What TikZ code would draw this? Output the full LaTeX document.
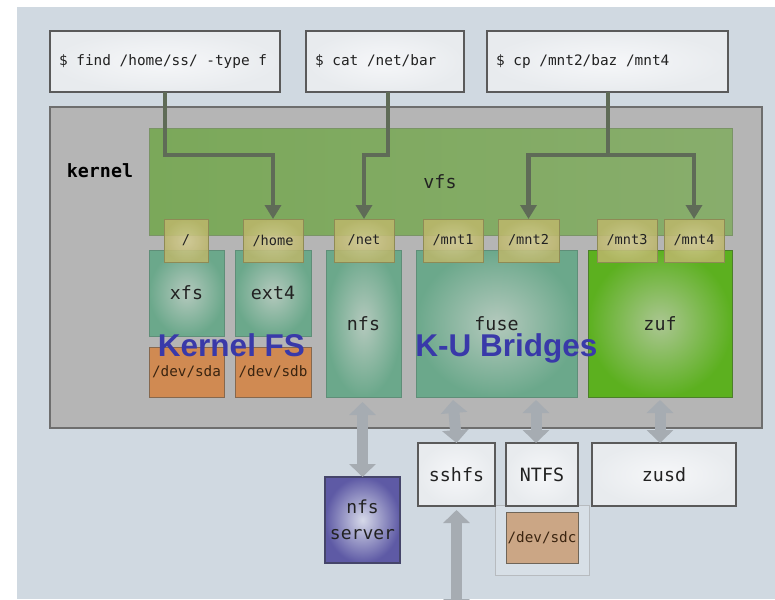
\documentclass[tikz,border=0pt]{standalone}
\usepackage{fontspec}
\setmainfont{Liberation Sans}
\setmonofont{DejaVu Sans Mono}
\usetikzlibrary{arrows.meta,calc}
\definecolor{bgc}{HTML}{D0D9E1}
\definecolor{cmdfill}{HTML}{E8EBEE}
\definecolor{cmdin}{HTML}{F6F7F9}
\definecolor{bord}{HTML}{5A5A5A}
\definecolor{kernfill}{HTML}{B5B5B5}
\definecolor{kernbord}{HTML}{6E6E6E}
\definecolor{vfsl}{HTML}{7BA85A}
\definecolor{vfsm}{HTML}{A9B99C}
\definecolor{vfsr}{HTML}{88AD6C}
\definecolor{vfsbord}{HTML}{7A9466}
\definecolor{mntin}{HTML}{D5CD92}
\definecolor{mntout}{HTML}{BDB76B}
\definecolor{mntbord}{HTML}{8E8A55}
\definecolor{fsin}{HTML}{B4C9BD}
\definecolor{fsout}{HTML}{6BA88B}
\definecolor{fsbord}{HTML}{5F8E78}
\definecolor{devfill}{HTML}{D08A52}
\definecolor{devbord}{HTML}{86684E}
\definecolor{devtext}{HTML}{3A2410}
\definecolor{zufin}{HTML}{ABC692}
\definecolor{zufout}{HTML}{5CB01F}
\definecolor{zufbord}{HTML}{4C7F2A}
\definecolor{srvin}{HTML}{D6D9E9}
\definecolor{srvout}{HTML}{5E5AA5}
\definecolor{srvbord}{HTML}{45456A}
\definecolor{sdcfill}{HTML}{CBA685}
\definecolor{sdcbord}{HTML}{6F6558}
\definecolor{encl}{HTML}{B7BBBF}
\definecolor{garrow}{HTML}{A6ACB2}
\definecolor{darrow}{HTML}{5F6B57}
\definecolor{bluelbl}{HTML}{3939A9}
\definecolor{txt}{HTML}{222222}
\begin{document}
\begin{tikzpicture}[x=1pt,y=-1pt,
  every node/.style={inner sep=0pt, outer sep=0pt, text=txt},
  cmdbox/.style={draw=bord, line width=1.3pt, shading=radial, inner color=cmdin, outer color=cmdfill,
    anchor=north west, minimum width=#1, minimum height=61pt},
  cmdtext/.style={anchor=west, font=\ttfamily\fontsize{14.4}{17}\selectfont},
  mntbox/.style={draw=mntbord, line width=1pt, fill opacity=0.85, text opacity=1,
    shading=radial, inner color=mntin, outer color=mntout,
    anchor=north west, minimum width=#1, minimum height=43pt,
    font=\ttfamily\fontsize{13.6}{16}\selectfont},
  fsbox/.style={draw=fsbord, line width=1pt, shading=radial, inner color=fsin, outer color=fsout,
    anchor=north west, font=\ttfamily\fontsize{18.3}{22}\selectfont},
  devbox/.style={draw=devbord, line width=1pt, fill=devfill, anchor=north west,
    minimum height=50pt, text=devtext, font=\ttfamily\fontsize{14.3}{17}\selectfont},
  userbox/.style={draw=bord, line width=1.3pt, shading=radial, inner color=cmdin, outer color=cmdfill,
    anchor=north west, minimum height=63pt, font=\ttfamily\fontsize{18.3}{22}\selectfont},
  varrow/.style={draw=darrow, line width=4.5pt, -{Triangle[width=16pt,length=14pt]}},
  garr/.style={draw=garrow, line width=11pt, {Triangle[width=26pt,length=13pt]}-{Triangle[width=26pt,length=13pt]}},
  bluelabel/.style={text=bluelbl, font=\fontsize{31.5}{36}\selectfont\bfseries, anchor=base}
]
\useasboundingbox (0,0) rectangle (775,599);
\fill[white] (0,0) rectangle (775,599);
\fill[bgc] (17,7) rectangle (775,599);

% command boxes
\node[cmdbox=230pt] (find) at (50,31) {};
\node[cmdtext] (findt) at ($(find.west)+(9,0)$) {\$ find /home/ss/ -type f};
\node[cmdbox=158pt] (cat) at (306,31) {};
\node[cmdtext] (catt) at ($(cat.west)+(9,0)$) {\$ cat /net/bar};
\node[cmdbox=241pt] (cp) at (487,31) {};
\node[cmdtext] (cpt) at ($(cp.west)+(9,0)$) {\$ cp /mnt2/baz /mnt4};

% kernel
\node[draw=kernbord, line width=1.5pt, fill=kernfill, anchor=north west, minimum width=712pt, minimum height=321pt] (kernel) at (50,107) {};
\node[font=\ttfamily\bfseries\fontsize{18.3}{22}\selectfont, text=black] (klbl) at (100,171) {kernel};

% vfs
\node[draw=vfsbord, line width=1pt, left color=vfsl, middle color=vfsm, right color=vfsr,
  anchor=north west, minimum width=583pt, minimum height=107pt] (vfs) at (149,128) {};
\node[font=\ttfamily\fontsize{18.3}{22}\selectfont] (vfslbl) at (440,182) {vfs};

% file systems
\node[fsbox, minimum width=75pt, minimum height=86pt] (xfs) at (149,250) {xfs};
\node[fsbox, minimum width=76pt, minimum height=86pt] (ext4) at (235,250) {ext4};
\node[devbox, minimum width=75pt] (sda) at (149,347) {/dev/sda};
\node[devbox, minimum width=76pt] (sdb) at (235,347) {/dev/sdb};
\node[fsbox, minimum width=75pt, minimum height=147pt] (nfs) at (326,250) {nfs};
\node[fsbox, minimum width=161pt, minimum height=147pt] (fuse) at (416,250) {fuse};
\node[fsbox, draw=zufbord, inner color=zufin, outer color=zufout, minimum width=144pt, minimum height=147pt] (zuf) at (588,250) {zuf};

% mount points
\node[mntbox=44pt] (root) at (164,219) {/};
\node[mntbox=60pt] (home) at (243,219) {/home};
\node[mntbox=60pt] (net) at (334,219) {/net};
\node[mntbox=60pt] (mnt1) at (423,219) {/mnt1};
\node[mntbox=61pt] (mnt2) at (498,219) {/mnt2};
\node[mntbox=60pt] (mnt3) at (597,219) {/mnt3};
\node[mntbox=60pt] (mnt4) at (664,219) {/mnt4};

% vfs path arrows
\coordinate (fj) at (165,155);
\coordinate (cj) at (388,155);
\coordinate (pj) at (608,155);
\draw[varrow] (find.south -| fj) -- (fj) -| (home.north);
\draw[varrow] (cat.south -| cj) -- (cj) -| (net.north);
\draw[varrow] (cp.south -| pj) -- (pj) -| (mnt2.north);
\draw[varrow] (pj) -| (mnt4.north);

% user space
\draw[draw=encl, line width=1pt, fill=bgc!85!white] (495,505) rectangle (589,575);
\node[userbox, draw=srvbord, inner color=srvin, outer color=srvout, minimum width=75pt, minimum height=86pt, align=center,
  font=\ttfamily\fontsize{18}{26}\selectfont] (server) at (325,477) {nfs\\server};
\node[userbox, minimum width=77pt] (sshfs) at (418,443) {sshfs};
\node[userbox, minimum width=72pt] (ntfs) at (506,443) {NTFS};
\node[userbox, minimum width=144pt] (zusd) at (592,443) {zusd};
\node[devbox, draw=sdcbord, fill=sdcfill, minimum width=72pt, minimum height=51pt] (sdc) at (506,512) {/dev/sdc};

% gray bidirectional arrows
\draw[garr] ($(nfs.south -| server.north)+(0,5)$) -- (server.north);
\draw[garr] ($(fuse.south west)+(37,3)$) -- (sshfs.north);
\draw[garr] ($(fuse.south west)+(120,3)$) -- (ntfs.north -| 536,0);
\draw[garr] ($(zuf.south)+(0,3)$) -- (zusd.north -| zuf.south);
\coordinate (netend) at (457,612);
\begin{scope}
\clip (0,0) rectangle (775,599);
\draw[garr] ($(sshfs.south)+(0,4)$) -- (sshfs.south |- netend);
\end{scope}

% overlay labels
\node[bluelabel] (kfs) at (231.5,356) {Kernel FS};
\node[bluelabel] (kub) at (506.5,356) {K-U Bridges};
\end{tikzpicture}
\end{document}
